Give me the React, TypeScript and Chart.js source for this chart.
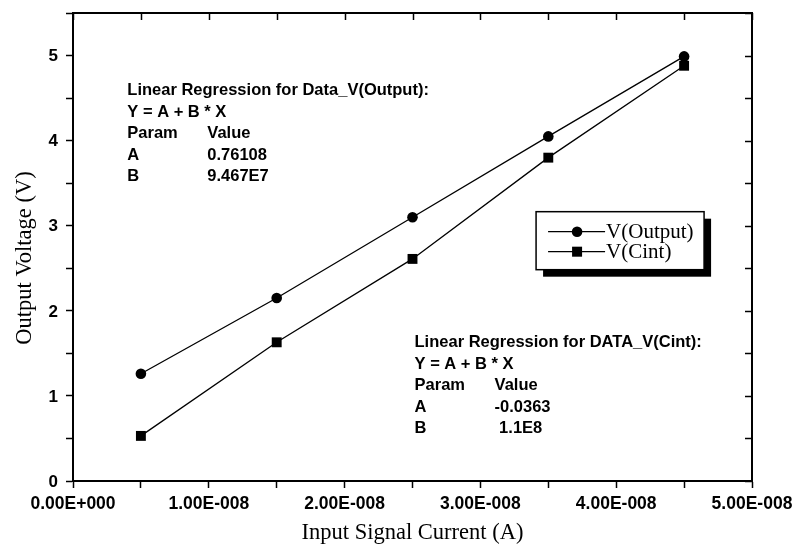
import React, { useEffect, useRef } from 'react';
import { Chart, registerables } from 'chart.js';

Chart.register(...registerables);

// ---- data ----
const currents = [0.5e-8, 1.5e-8, 2.5e-8, 3.5e-8, 4.5e-8];
const vOutput = [1.26, 2.15, 3.1, 4.05, 4.99];
const vCint = [0.53, 1.63, 2.61, 3.8, 4.88];
const seriesNames = ['V(Output)', 'V(Cint)'];
const xTitle = 'Input Signal Current (A)';
const yTitle = 'Output Voltage (V)';
const xMin = 0;
const xMax = 5e-8;
const xStep = 0.5e-8;
const xLabelStep = 1e-8;
const yMin = 0;
const yMax = 5.5;
const yStep = 0.5;
const yLabelStep = 1;

const reg1Header = ['Linear Regression for Data_V(Output):', 'Y = A + B * X'];
const reg1Rows = [
  ['Param', 'Value'],
  ['A', '0.76108'],
  ['B', '9.467E7'],
];
const reg2Header = ['Linear Regression for DATA_V(Cint):', 'Y = A + B * X'];
const reg2Rows = [
  ['Param', 'Value'],
  ['A', '-0.0363'],
  ['B', ' 1.1E8'],
];
// anchors in data coordinates (x current, y voltage)
const reg1Anchor = { x: 0.4e-8, y: 4.585 };
const reg2Anchor = { x: 2.515e-8, y: 1.625 };
const legendAnchor = { x: 3.41e-8, y: 3.165 };

const fmtSci = (v: number) => {
  if (Math.abs(v) < 1e-20) return '0.00E+000';
  const e = Math.floor(Math.log10(Math.abs(v)) + 1e-9);
  const m = v / Math.pow(10, e);
  const sign = e < 0 ? '-' : '+';
  return m.toFixed(2) + 'E' + sign + String(Math.abs(e)).padStart(3, '0');
};

const isMultiple = (v: number, step: number) => {
  const r = v / step;
  return Math.abs(r - Math.round(r)) < 1e-6;
};

const SANS = "'Liberation Sans', Arial, sans-serif";
const SERIF = "'Liberation Serif', 'Times New Roman', serif";

function drawCircleMarker(ctx: CanvasRenderingContext2D, x: number, y: number) {
  ctx.beginPath();
  ctx.arc(x, y, 5.3, 0, Math.PI * 2);
  ctx.fillStyle = '#000';
  ctx.fill();
}
function drawSquareMarker(ctx: CanvasRenderingContext2D, x: number, y: number) {
  ctx.fillStyle = '#000';
  ctx.fillRect(x - 5, y - 5, 10, 10);
}

const overlayPlugin = {
  id: 'overlay',
  afterDraw(chart: any) {
    const { ctx, chartArea: a, scales } = chart;
    const xs = scales.x;
    const ys = scales.y;
    ctx.save();
    // frame
    ctx.strokeStyle = '#000';
    ctx.lineWidth = 2;
    ctx.strokeRect(a.left, a.top, a.right - a.left, a.bottom - a.top);
    // inward ticks on top and right
    ctx.lineWidth = 1.5;
    xs.ticks.forEach((t: any) => {
      const px = Math.round(xs.getPixelForValue(t.value)) + 0.5;
      ctx.beginPath();
      ctx.moveTo(px, a.top);
      ctx.lineTo(px, a.top + 7);
      ctx.stroke();
    });
    ys.ticks.forEach((t: any) => {
      const py = Math.round(ys.getPixelForValue(t.value)) + 0.5;
      ctx.beginPath();
      ctx.moveTo(a.right, py);
      ctx.lineTo(a.right - 7, py);
      ctx.stroke();
    });

    // tick labels
    ctx.fillStyle = '#000';
    ctx.font = `bold 17.5px ${SANS}`;
    ctx.textAlign = 'center';
    ctx.textBaseline = 'middle';
    xs.ticks.forEach((t: any) => {
      if (!isMultiple(t.value, xLabelStep)) return;
      const v = Math.round(t.value / xLabelStep) * xLabelStep;
      ctx.fillText(fmtSci(v), xs.getPixelForValue(t.value), a.bottom + 23);
    });
    ctx.font = `bold 17px ${SANS}`;
    ctx.textAlign = 'right';
    ys.ticks.forEach((t: any) => {
      if (!isMultiple(t.value, yLabelStep)) return;
      ctx.fillText(String(Math.round(t.value)), a.left - 15, ys.getPixelForValue(t.value) + 1);
    });

    // axis titles
    ctx.font = `22.5px ${SERIF}`;
    ctx.textAlign = 'center';
    ctx.textBaseline = 'middle';
    ctx.fillText(xTitle, (a.left + a.right) / 2, a.bottom + 52);
    ctx.save();
    ctx.translate(a.left - 48, (a.top + a.bottom) / 2 + 11);
    ctx.rotate(-Math.PI / 2);
    ctx.fillText(yTitle, 0, 0);
    ctx.restore();

    // regression annotations
    const drawBlock = (anchor: any, header: string[], rows: string[][]) => {
      const x0 = xs.getPixelForValue(anchor.x);
      const y0 = ys.getPixelForValue(anchor.y);
      const lh = 21.5;
      ctx.font = `bold 16.5px ${SANS}`;
      ctx.textAlign = 'left';
      ctx.textBaseline = 'middle';
      header.forEach((h, i) => ctx.fillText(h, x0, y0 + i * lh));
      rows.forEach((r, i) => {
        const yy = y0 + (header.length + i) * lh;
        ctx.fillText(r[0], x0, yy);
        ctx.fillText(r[1], x0 + 80, yy);
      });
    };
    drawBlock(reg1Anchor, reg1Header, reg1Rows);
    drawBlock(reg2Anchor, reg2Header, reg2Rows);

    // legend
    const L = xs.getPixelForValue(legendAnchor.x);
    const T = ys.getPixelForValue(legendAnchor.y);
    const W = 168;
    const H = 58;
    ctx.fillStyle = '#000';
    ctx.fillRect(L + 7, T + 7, W, H);
    ctx.fillStyle = '#fff';
    ctx.fillRect(L, T, W, H);
    ctx.strokeStyle = '#000';
    ctx.lineWidth = 1.5;
    ctx.strokeRect(L, T, W, H);
    const rowsY = [T + 20, T + 40];
    seriesNames.forEach((name, i) => {
      const yy = rowsY[i];
      ctx.lineWidth = 1.3;
      ctx.beginPath();
      ctx.moveTo(L + 12, yy);
      ctx.lineTo(L + 69, yy);
      ctx.stroke();
      if (i === 0) drawCircleMarker(ctx, L + 41, yy);
      else drawSquareMarker(ctx, L + 41, yy);
      ctx.fillStyle = '#000';
      ctx.font = `21px ${SERIF}`;
      ctx.textAlign = 'left';
      ctx.textBaseline = 'middle';
      ctx.fillText(name, L + 70, yy + 1);
    });
    ctx.restore();
  },
};

export default function App() {
  const ref = useRef<HTMLCanvasElement | null>(null);
  useEffect(() => {
    if (!ref.current) return;
    const chart = new Chart(ref.current, {
      type: 'line',
      data: {
        datasets: [
          {
            label: seriesNames[0],
            data: currents.map((c, i) => ({ x: c, y: vOutput[i] })),
            borderColor: '#000',
            backgroundColor: '#000',
            borderWidth: 1.3,
            pointStyle: 'circle',
            pointRadius: 5.3,
            pointBackgroundColor: '#000',
            pointBorderColor: '#000',
            pointBorderWidth: 0,
            tension: 0,
          },
          {
            label: seriesNames[1],
            data: currents.map((c, i) => ({ x: c, y: vCint[i] })),
            borderColor: '#000',
            backgroundColor: '#000',
            borderWidth: 1.3,
            pointStyle: 'rect',
            pointRadius: 7,
            pointBackgroundColor: '#000',
            pointBorderColor: '#000',
            pointBorderWidth: 0,
            tension: 0,
          },
        ],
      },
      options: {
        animation: false,
        responsive: true,
        maintainAspectRatio: false,
        layout: { padding: { top: 13, right: 44, left: 0, bottom: 0 } },
        plugins: {
          legend: { display: false },
          tooltip: { enabled: false },
        },
        scales: {
          x: {
            type: 'linear',
            min: xMin,
            max: xMax,
            afterFit: (s: any) => {
              s.height = 73;
            },
            grid: {
              drawOnChartArea: false,
              drawTicks: true,
              tickLength: 7,
              tickWidth: 1.5,
              tickColor: '#000',
            },
            border: { display: true, color: '#000', width: 2 },
            ticks: {
              display: false,
              stepSize: xStep,
              autoSkip: false,
              maxRotation: 0,
              minRotation: 0,
            },
          },
          y: {
            type: 'linear',
            min: yMin,
            max: yMax,
            afterFit: (s: any) => {
              s.width = 73;
            },
            grid: {
              drawOnChartArea: false,
              drawTicks: true,
              tickLength: 7,
              tickWidth: 1.5,
              tickColor: '#000',
            },
            border: { display: true, color: '#000', width: 2 },
            ticks: {
              display: false,
              stepSize: yStep,
              autoSkip: false,
            },
          },
        },
      },
      plugins: [overlayPlugin],
    });
    return () => chart.destroy();
  }, []);
  return (
    <div style={{ position: 'fixed', left: 0, top: 0, width: 796, height: 554, background: '#fff' }}>
      <canvas ref={ref} />
    </div>
  );
}
